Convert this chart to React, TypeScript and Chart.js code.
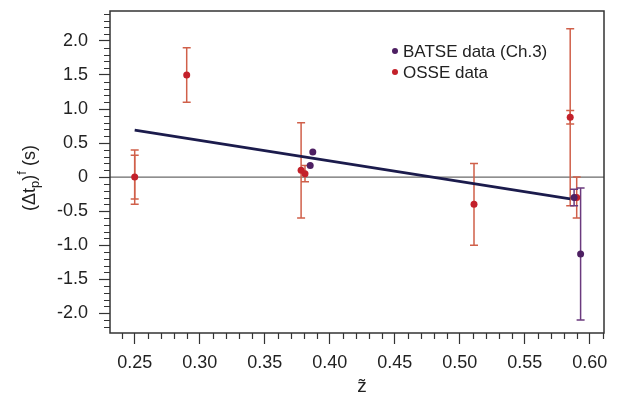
import React, { useEffect, useRef } from 'react';
import { Chart, registerables } from 'chart.js';

Chart.register(...registerables);

// ---- Data ----
const batseX = [0.387, 0.385, 0.588, 0.593];
const batseY = [0.37, 0.17, -0.30, -1.13];
const batseErr = [0, 0, 0.12, 0.97];

const osseX = [0.25, 0.29, 0.378, 0.381, 0.511, 0.585, 0.590];
const osseY = [0.0, 1.5, 0.10, 0.05, -0.40, 0.88, -0.30];
const osseErrOuter = [0.40, 0.40, 0.70, 0.12, 0.60, 1.30, 0.30];
const osseErrInner = [0.32, 0, 0, 0, 0, 0.10, 0];

const fitX = [0.25, 0.585];
const fitY = [0.69, -0.32];

const xTicks = [0.25, 0.30, 0.35, 0.40, 0.45, 0.50, 0.55, 0.60];
const xTickLabels = ['0.25', '0.30', '0.35', '0.40', '0.45', '0.50', '0.55', '0.60'];
const yTicks = [-2, -1.5, -1, -0.5, 0, 0.5, 1, 1.5, 2];
const yTickLabels = ['-2.0', '-1.5', '-1.0', '-0.5', '0', '0.5', '1.0', '1.5', '2.0'];

const legendLabels = ['BATSE data (Ch.3)', 'OSSE data'];
const xTitle = 'z\u0303';

const FONT = "'Liberation Sans', Arial, sans-serif";
const RED = '#c3202a';
const RED_BAR = '#d0604a';
const PURPLE = '#4d1f62';
const PURPLE_BAR = '#6b3a7e';
const NAVY = '#1b1b4c';
const AXIS = '#333333';

const decor = {
  id: 'decor',
  beforeDatasetsDraw(chart: any) {
    const { ctx, chartArea: a, scales } = chart;
    const x = scales.x;
    const y = scales.y;
    ctx.save();
    // zero line
    const y0 = y.getPixelForValue(0);
    ctx.strokeStyle = '#6a6a6a';
    ctx.lineWidth = 1.3;
    ctx.beginPath();
    ctx.moveTo(a.left, y0);
    ctx.lineTo(a.right, y0);
    ctx.stroke();

    const bar = (xv: number, yv: number, e: number, color: string) => {
      if (!e) return;
      const px = x.getPixelForValue(xv);
      const pt = y.getPixelForValue(yv + e);
      const pb = y.getPixelForValue(yv - e);
      ctx.strokeStyle = color;
      ctx.lineWidth = 1.5;
      ctx.beginPath();
      ctx.moveTo(px, pt);
      ctx.lineTo(px, pb);
      ctx.moveTo(px - 4, pt);
      ctx.lineTo(px + 4, pt);
      ctx.moveTo(px - 4, pb);
      ctx.lineTo(px + 4, pb);
      ctx.stroke();
    };
    osseX.forEach((xv, i) => {
      bar(xv, osseY[i], osseErrOuter[i], RED_BAR);
      bar(xv, osseY[i], osseErrInner[i], RED_BAR);
    });
    batseX.forEach((xv, i) => bar(xv, batseY[i], batseErr[i], PURPLE_BAR));
    ctx.restore();
  },
  afterDraw(chart: any) {
    const { ctx, chartArea: a, scales } = chart;
    const x = scales.x;
    const y = scales.y;
    ctx.save();
    // frame
    ctx.strokeStyle = AXIS;
    ctx.lineWidth = 1.5;
    ctx.strokeRect(a.left, a.top, a.right - a.left, a.bottom - a.top);

    // minor ticks
    ctx.lineWidth = 1.2;
    ctx.beginPath();
    for (let k = -23; k <= 24; k++) {
      if (k % 5 === 0) continue;
      const v = k / 10;
      if (v < y.min || v > y.max) continue;
      const py = Math.round(y.getPixelForValue(v)) + 0.5;
      ctx.moveTo(a.left - 6, py);
      ctx.lineTo(a.left, py);
    }
    for (let k = 23; k <= 61; k++) {
      if (k % 5 === 0) continue;
      const v = k / 100;
      if (v < x.min || v > x.max) continue;
      const px = Math.round(x.getPixelForValue(v)) + 0.5;
      ctx.moveTo(px, a.bottom);
      ctx.lineTo(px, a.bottom + 6);
    }
    ctx.stroke();

    // legend
    const lx = 395;
    const rows = [51, 72];
    const cols = [PURPLE, RED];
    ctx.font = `17px ${FONT}`;
    ctx.textBaseline = 'middle';
    ctx.textAlign = 'left';
    rows.forEach((ry, i) => {
      ctx.fillStyle = cols[i];
      ctx.beginPath();
      ctx.arc(lx, ry, 3, 0, Math.PI * 2);
      ctx.fill();
      ctx.fillStyle = '#222';
      ctx.fillText(legendLabels[i], lx + 8, ry + 1);
    });

    // x title
    ctx.font = `19px ${FONT}`;
    ctx.textAlign = 'center';
    ctx.textBaseline = 'middle';
    ctx.fillStyle = '#222';
    ctx.fillText(xTitle, 362, 387);

    // y title with subscript/superscript
    ctx.translate(30, 178);
    ctx.rotate(-Math.PI / 2);
    const big = `18px ${FONT}`;
    const small = `13px ${FONT}`;
    const parts: [string, string, number][] = [
      ['(\u0394t', big, 0],
      ['p', small, 5],
      [')', big, 0],
      ['f', small, -8],
      [' (s)', big, 0],
    ];
    let total = 0;
    parts.forEach(([t, f]) => {
      ctx.font = f;
      total += ctx.measureText(t).width;
    });
    let cx = -total / 2;
    ctx.textAlign = 'left';
    ctx.textBaseline = 'middle';
    parts.forEach(([t, f, dy]) => {
      ctx.font = f;
      ctx.fillText(t, cx, dy);
      cx += ctx.measureText(t).width;
    });
    ctx.restore();
  },
};

export default function App() {
  const ref = useRef<HTMLCanvasElement | null>(null);
  useEffect(() => {
    if (!ref.current) return;
    const chart = new Chart(ref.current, {
      type: 'scatter',
      data: {
        datasets: [
          {
            label: 'fit',
            data: fitX.map((v, i) => ({ x: v, y: fitY[i] })),
            showLine: true,
            borderColor: NAVY,
            borderWidth: 2.6,
            pointRadius: 0,
          },
          {
            label: legendLabels[0],
            data: batseX.map((v, i) => ({ x: v, y: batseY[i] })),
            backgroundColor: PURPLE,
            borderWidth: 0,
            pointRadius: 3.5,
          },
          {
            label: legendLabels[1],
            data: osseX.map((v, i) => ({ x: v, y: osseY[i] })),
            backgroundColor: RED,
            borderWidth: 0,
            pointRadius: 3.5,
          },
        ],
      },
      options: {
        responsive: false,
        animation: false,
        devicePixelRatio: 1,
        layout: { padding: { top: 11, right: 15, left: 0, bottom: 0 } },
        plugins: { legend: { display: false }, tooltip: { enabled: false } },
        scales: {
          x: {
            type: 'linear',
            min: 0.231,
            max: 0.611,
            afterBuildTicks: (s: any) => {
              s.ticks = xTicks.map((v) => ({ value: v }));
            },
            afterFit: (s: any) => {
              s.height = 73;
              s.paddingLeft = 0;
              s.paddingRight = 0;
            },
            ticks: {
              autoSkip: false,
              maxRotation: 0,
              padding: 8,
              color: '#222',
              font: { family: FONT, size: 18 },
              callback: (v: any) => xTickLabels[xTicks.indexOf(Number(v))] ?? '',
            },
            grid: {
              drawOnChartArea: false,
              drawTicks: true,
              tickLength: 11,
              tickColor: AXIS,
              tickWidth: 1.2,
            },
            border: { display: false },
          },
          y: {
            type: 'linear',
            min: -2.29,
            max: 2.44,
            afterBuildTicks: (s: any) => {
              s.ticks = yTicks.map((v) => ({ value: v }));
            },
            afterFit: (s: any) => {
              s.width = 110;
              s.paddingTop = 0;
              s.paddingBottom = 0;
            },
            ticks: {
              autoSkip: false,
              padding: 11,
              color: '#222',
              font: { family: FONT, size: 18 },
              callback: (v: any) => yTickLabels[yTicks.indexOf(Number(v))] ?? '',
            },
            grid: {
              drawOnChartArea: false,
              drawTicks: true,
              tickLength: 11,
              tickColor: AXIS,
              tickWidth: 1.2,
            },
            border: { display: false },
          },
        },
      },
      plugins: [decor],
    } as any);
    return () => chart.destroy();
  }, []);
  return (
    <div style={{ position: 'fixed', left: 0, top: 0, width: 619, height: 406, background: '#fff' }}>
      <canvas ref={ref} width={619} height={406} style={{ display: 'block' }} />
    </div>
  );
}
